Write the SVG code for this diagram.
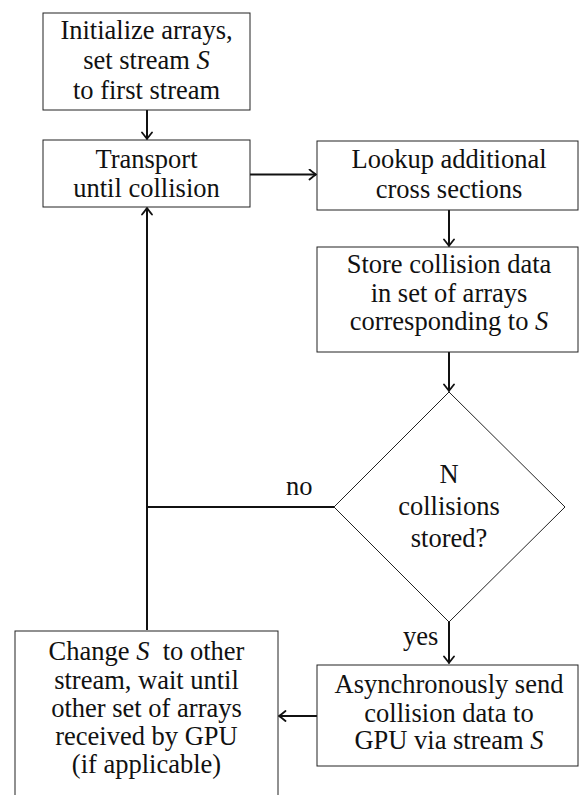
<svg xmlns="http://www.w3.org/2000/svg" width="579" height="795" viewBox="0 0 579 795" font-family="'Liberation Serif', 'Times New Roman', Times, serif">
<style>
.box{fill:#fff;stroke:#222;stroke-width:1}
text{font-family:'Liberation Serif','Times New Roman',Times,serif}
.t{font-size:26.5px;fill:#111;text-anchor:middle}
.lbl{font-size:26.5px;fill:#111}
.c{fill:none;stroke:#111;stroke-width:2}
.i{font-style:italic}
</style>
<defs>
<marker id="arr" viewBox="-8 -6 9 12" refX="0" refY="0" markerWidth="9" markerHeight="12" markerUnits="userSpaceOnUse" orient="auto">
<path d="M-6.5,-5 Q-1.8,-1.2 0,0 Q-1.8,1.2 -6.5,5" fill="none" stroke="#111" stroke-width="1.8" stroke-linecap="round"/>
</marker>
</defs>
<rect width="579" height="795" fill="#fff"/>
<g id="connectors">
<path class="c" d="M147,110 V139" marker-end="url(#arr)"/>
<path class="c" d="M250,174.5 H316" marker-end="url(#arr)"/>
<path class="c" d="M449,210 V246" marker-end="url(#arr)"/>
<path class="c" d="M449,352 V391" marker-end="url(#arr)"/>
<path class="c" d="M449,622 V663" marker-end="url(#arr)"/>
<path class="c" d="M317,716 H279" marker-end="url(#arr)"/>
<path class="c" d="M334,507 H147"/>
<path class="c" d="M147,630 V208" marker-end="url(#arr)"/>
<text class="lbl" x="286" y="495">no</text>
<text class="lbl" x="403" y="645">yes</text>
</g>
<g id="init">
<rect class="box" x="43" y="13" width="207" height="97"/>
<text class="t" x="146.5" y="39">Initialize arrays,</text>
<text class="t" x="146.5" y="69">set stream <tspan class="i">S</tspan></text>
<text class="t" x="146.5" y="99">to first stream</text>
</g>
<g id="transport">
<rect class="box" x="43" y="140" width="207" height="67"/>
<text class="t" x="146.5" y="168">Transport</text>
<text class="t" x="146.5" y="197">until collision</text>
</g>
<g id="lookup">
<rect class="box" x="317" y="141" width="261" height="69"/>
<text class="t" x="449" y="168">Lookup additional</text>
<text class="t" x="449" y="198">cross sections</text>
</g>
<g id="store">
<rect class="box" x="317" y="247" width="261" height="105"/>
<text class="t" x="449" y="273">Store collision data</text>
<text class="t" x="449" y="302">in set of arrays</text>
<text class="t" x="449" y="330">corresponding to <tspan class="i">S</tspan></text>
</g>
<g id="decision">
<polygon class="box" points="449,392 565,507 449,622 334,507"/>
<text class="t" x="449" y="483">N</text>
<text class="t" x="449" y="515">collisions</text>
<text class="t" x="449" y="547">stored?</text>
</g>
<g id="send">
<rect class="box" x="317" y="665" width="261" height="101"/>
<text class="t" x="449" y="693">Asynchronously send</text>
<text class="t" x="449" y="722">collision data to</text>
<text class="t" x="449" y="749">GPU via stream <tspan class="i">S</tspan></text>
</g>
<g id="change">
<rect class="box" x="15" y="631" width="263" height="175"/>
<text class="t" x="146.5" y="660">Change <tspan class="i">S</tspan>&#160; to other</text>
<text class="t" x="146.5" y="689">stream, wait until</text>
<text class="t" x="146.5" y="717">other set of arrays</text>
<text class="t" x="146.5" y="745">received by GPU</text>
<text class="t" x="146.5" y="773">(if applicable)</text>
</g>
</svg>
